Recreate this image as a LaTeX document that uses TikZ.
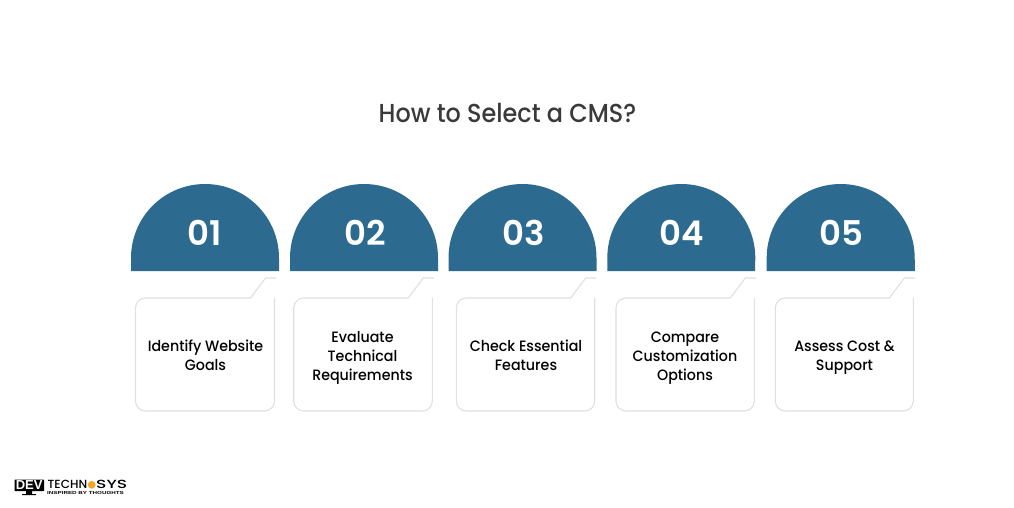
\documentclass[tikz,border=0pt]{standalone}
\usepackage{fontspec}
\setmainfont{Poppins}
\newfontfamily\medfont{Poppins Medium}
\newfontfamily\titlefont[FakeStretch=0.92]{Poppins Medium}
\newfontfamily\cardfont[FakeStretch=0.95]{Poppins Medium}
\newfontfamily\numfont{Poppins SemiBold}
\newfontfamily\logofont{Liberation Sans}
\definecolor{dome}{HTML}{2C6A8F}
\definecolor{edge}{HTML}{E0E0E0}
\definecolor{titlecol}{HTML}{3A3A3A}
\definecolor{hexcol}{HTML}{F5A623}
\tikzset{
  x=1pt,y=-1pt,
  dometop/.style={fill=dome,draw=none},
  numlabel/.style={text=white,inner sep=0pt,font=\numfont\fontsize{34}{34}\selectfont},
  cardedge/.style={draw=edge,line width=1.1pt,fill=none,line join=round},
  cardlabel/.style={text=black,inner sep=0pt,align=center,font=\cardfont\fontsize{15}{19}\selectfont},
  logotext/.style={inner sep=0pt,anchor=west,text=black,font=\medfont\fontsize{11.8}{11.8}\selectfont},
}
\begin{document}
\begin{tikzpicture}
\useasboundingbox (0,0) rectangle (1014,507);
\fill[white] (0,0) rectangle (1014,507);
\node[inner sep=0pt,text=titlecol,font=\titlefont\fontsize{26}{26}\selectfont] (title) at (507.5,112.5) {How to Select a CMS?};
\foreach \i/\dl/\dr/\bl/\br/\nx/\tx/\ty/\txt in {
 1/131/279/135.5/274.5/205/205.5/355/{Identify Website\\Goals},
 2/290/438/293.7/432.3/365/362.5/357.5/{Evaluate\\Technical\\Requirements},
 3/448.5/596.5/456.3/594.7/523.5/526/355/{Check Essential\\Features},
 4/607.3/755/616/754.3/682/685/358.5/{Compare\\Customization\\Options},
 5/766.7/915/775.3/913.3/841/844.5/357.5/{Assess Cost \&\\Support}}
{
  \path[dometop] (\dl,271) -- (\dl,258) arc[start angle=180,end angle=0,radius=74pt] -- (\dr,271) -- cycle;
  \node[numlabel] (num\i) at (\nx,233) {0\i};
  \draw[cardedge]
    (\br,298) -- (\br,401) arc[start angle=0,end angle=-90,radius=10pt]
    -- ({\bl+10},411) arc[start angle=-90,end angle=-180,radius=10pt]
    -- (\bl,308) arc[start angle=180,end angle=90,radius=10pt]
    -- ({\br-24},298) -- ({\br-9},278) -- ({\br+1.5},278);
  \node[cardlabel] (card\i) at (\tx,\ty) {\txt};
}
% logo
\fill[black,rounded corners=0.5pt] (14.5,479.5) rectangle (44,491);
\fill[black] (26,491) rectangle (32,494) (22,494) rectangle (36,495);
\node[inner sep=0pt,text=white,font=\logofont\bfseries\fontsize{13}{13}\selectfont] (logodev) at (29.2,485.3) {DEV};
\node[logotext] (logotech) at (47.5,484.6) {\scalebox{1.02}[1]{TECHN}};
\fill[hexcol] (91.7,484.8) circle[radius=3.9pt];
\node[logotext] (logosys) at (96,484.6) {\scalebox{1.45}[1]{SYS}};
\node[inner sep=0pt,anchor=west,text=black,font=\logofont\bfseries\fontsize{4.4}{4.4}\selectfont] (logosub) at (47,492.6) {\scalebox{1.42}[1]{INSPIRED BY THOUGHTS}};
\end{tikzpicture}
\end{document}
